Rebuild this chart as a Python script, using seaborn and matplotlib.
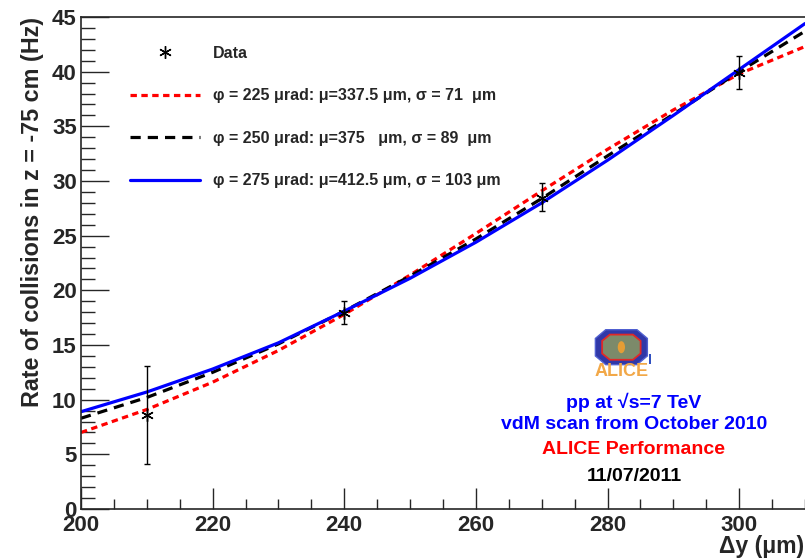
import numpy as np
import pandas as pd
import seaborn as sns
import matplotlib
matplotlib.use("Agg")
import matplotlib.pyplot as plt
from matplotlib.patches import Polygon, Circle, Rectangle
from matplotlib.ticker import MultipleLocator

# ---- data ----
data_x = [210, 240, 270, 300]
data_y = [8.6, 17.9, 28.4, 39.9]
data_err_lo = [4.5, 1.0, 1.1, 1.5]
data_err_hi = [4.5, 1.1, 1.4, 1.5]

curve_x = [200, 210, 220, 230, 240, 250, 260, 270, 280, 290, 300, 310]
red_y = [7.0, 9.1, 11.6, 14.5, 17.8, 21.4, 25.2, 29.1, 32.9, 36.5, 39.8, 42.3]
black_y = [8.3, 10.2, 12.5, 15.1, 18.1, 21.3, 24.7, 28.4, 32.3, 36.1, 40.0, 43.7]
blue_y = [8.9, 10.7, 12.8, 15.2, 18.1, 21.1, 24.4, 28.0, 31.9, 36.0, 40.2, 44.4]

labels = [
    "\u03c6 = 225 \u03bcrad: \u03bc=337.5 \u03bcm, \u03c3 = 71  \u03bcm",
    "\u03c6 = 250 \u03bcrad: \u03bc=375   \u03bcm, \u03c3 = 89  \u03bcm",
    "\u03c6 = 275 \u03bcrad: \u03bc=412.5 \u03bcm, \u03c3 = 103 \u03bcm",
]

sns.set_style("ticks")
plt.rcParams['font.family'] = ['Liberation Sans', 'DejaVu Sans']
plt.rcParams['font.weight'] = 'bold'

fig = plt.figure(figsize=(8.05, 5.6), dpi=100)
ax = fig.add_axes([81/805, 51/560, 1 - 81/805, 492/560])

df = pd.DataFrame({"x": curve_x, "red": red_y, "black": black_y, "blue": blue_y})

sns.lineplot(data=df, x="x", y="red", ax=ax, color="#ff0000", lw=2.3,
             label=labels[0])
sns.lineplot(data=df, x="x", y="black", ax=ax, color="black", lw=2.3,
             label=labels[1])
sns.lineplot(data=df, x="x", y="blue", ax=ax, color="#0000ff", lw=2.3,
             label=labels[2])
lines = ax.get_lines()
lines[0].set_dashes((2, 1.4))
lines[1].set_dashes((3.2, 2.2))

ax.errorbar(data_x, data_y, yerr=[data_err_lo, data_err_hi], fmt='none',
            ecolor='black', elinewidth=1.0, capsize=2, capthick=1.0, zorder=5)
sc = ax.plot(data_x, data_y, ls='none', marker=(6, 2, 0), ms=9, mew=1.0,
             color='black', zorder=6, label='Data')[0]

ax.set_xlim(200, 310)
ax.set_ylim(0, 45)
ax.xaxis.set_major_locator(MultipleLocator(20))
ax.xaxis.set_minor_locator(MultipleLocator(5))
ax.yaxis.set_major_locator(MultipleLocator(5))
ax.yaxis.set_minor_locator(MultipleLocator(1))
ax.tick_params(axis='y', which='major', direction='in', length=20, width=1.0,
               labelsize=16, pad=3)
ax.tick_params(axis='x', which='major', direction='in', length=15, width=1.0,
               labelsize=16, pad=4)
ax.tick_params(axis='x', which='minor', direction='in', length=7.5, width=1.0)
ax.tick_params(axis='y', which='minor', direction='in', length=10, width=1.0)
for lab in ax.get_xticklabels() + ax.get_yticklabels():
    lab.set_fontweight('bold')
ax.spines['right'].set_visible(False)
for s in ['left', 'bottom', 'top']:
    ax.spines[s].set_linewidth(1.2)

ax.set_xlabel("")
ax.set_ylabel("Rate of collisions in z = -75 cm (Hz)", fontsize=16.8,
              fontweight='bold', loc='top', labelpad=6)
fig.text(804/805, 1 - 547/560, "\u0394y (\u03bcm)", ha='right', va='center',
         fontsize=16.5, fontweight='bold')

handles = [sc] + lines[:3]
leg = ax.legend(handles, ['Data'] + labels, loc='upper left',
                bbox_to_anchor=((130 - 81) / 724, 1 - (46 - 17) / 492),
                frameon=False, borderpad=0, borderaxespad=0,
                handlelength=4.4, handletextpad=0.8,
                labelspacing=1.72, prop={'weight': 'bold', 'size': 11.5})

# ALICE logo (simple approximation)
cx, cy = 282.1, 14.8
w, h = 3.95, 1.6
oct_pts = [(cx - w, cy - h*0.5), (cx - w, cy + h*0.5), (cx - w*0.6, cy + h),
           (cx + w*0.6, cy + h), (cx + w, cy + h*0.5), (cx + w, cy - h*0.5),
           (cx + w*0.6, cy - h), (cx - w*0.6, cy - h)]
ax.add_patch(Polygon(oct_pts, closed=True, fc='#3038a8', ec='#5060d0', lw=1, zorder=3))
inner = [(x0 * 0.74 + cx * 0.26, y0 * 0.72 + cy * 0.28) for x0, y0 in oct_pts]
ax.add_patch(Polygon(inner, closed=True, fc='#7c8a6a', ec='#e02828', lw=1.3, zorder=3))
ax.add_patch(Circle((cx, cy), 0.55, fc='#f0a030', ec='none', alpha=0.9, zorder=3))
ax.add_patch(Rectangle((cx + w + 0.2, cy - h*0.95), 0.35, 0.9, fc='#3050c0', ec='none', zorder=3))
ax.text(cx, 12.55, "ALICE", color='#f2a848', fontsize=13, fontweight='bold',
        ha='center', va='center', zorder=4)

tx = 284.0
ax.text(tx, 9.79, "pp at \u221as=7 TeV", color='#0000ff', fontsize=14, fontweight='bold', ha='center', va='center')
ax.text(tx, 7.69, "vdM scan from October 2010", color='#0000ff', fontsize=14, fontweight='bold', ha='center', va='center')
ax.text(tx, 5.40, "ALICE Performance", color='#ff0000', fontsize=14, fontweight='bold', ha='center', va='center')
ax.text(tx, 2.93, "11/07/2011", color='black', fontsize=14, fontweight='bold', ha='center', va='center')

fig.savefig("out.png", dpi=100)
